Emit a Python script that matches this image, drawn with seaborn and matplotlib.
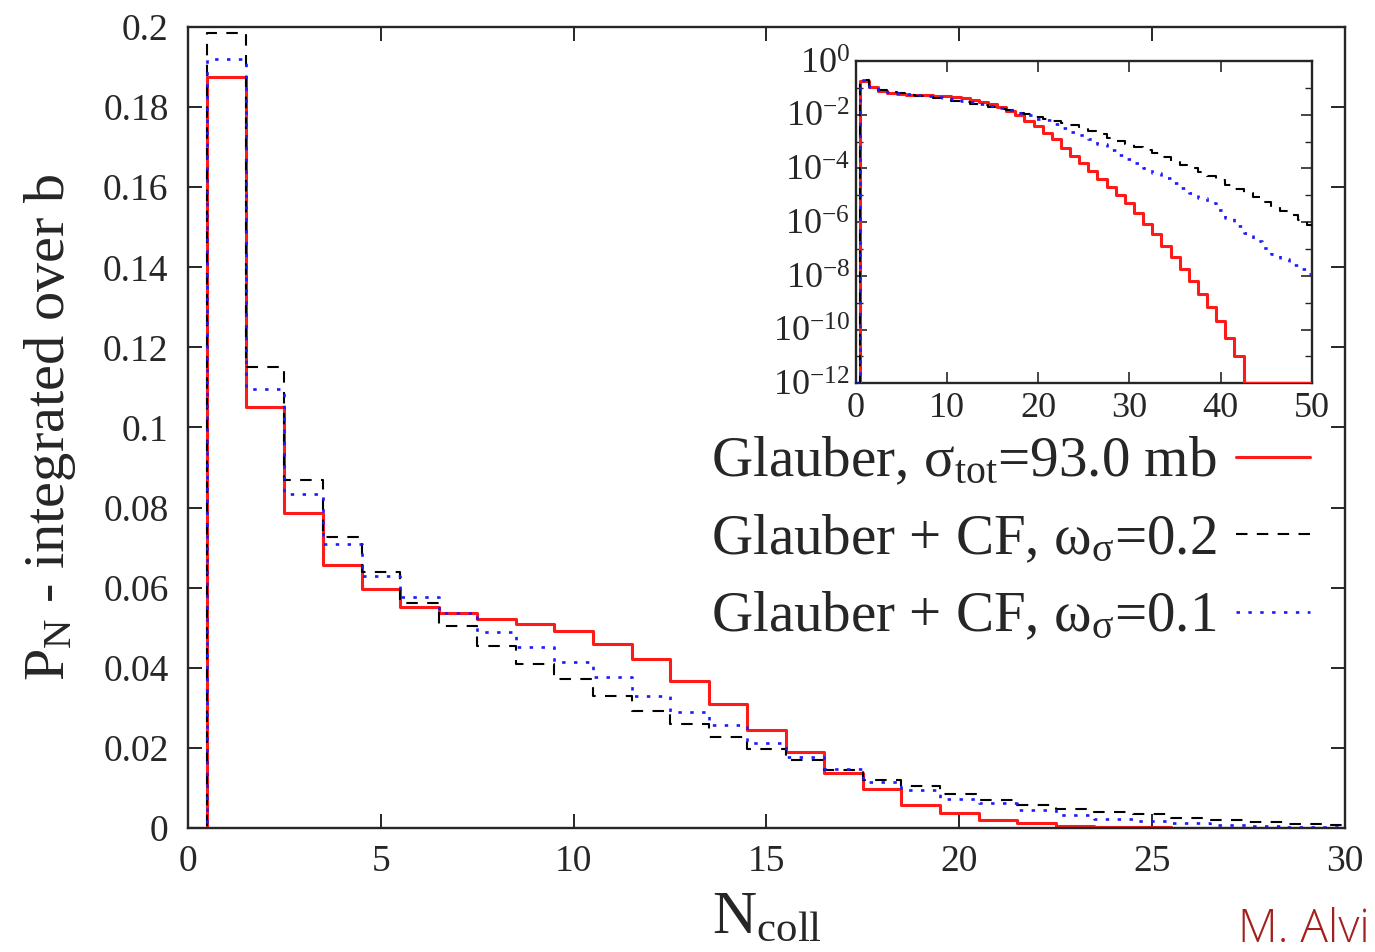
import numpy as np
import pandas as pd
import matplotlib
matplotlib.use('Agg')
import matplotlib.pyplot as plt
import seaborn as sns
from matplotlib.ticker import FuncFormatter, FixedLocator, LogFormatterMathtext, NullFormatter

# ---------------- data ----------------
n_coll = list(range(0, 51))

p_glauber = [0.0, 0.1875, 0.105, 0.0786, 0.0657, 0.0597, 0.0552, 0.0537, 0.0523, 0.051,
             0.0492, 0.046, 0.0422, 0.0368, 0.031, 0.0245, 0.019, 0.0138, 0.0098, 0.0058,
             0.0038, 0.0021, 0.0012, 6.0e-4, 3.0e-4, 1.6e-4, 7.9e-5, 4.0e-5, 2.1e-5, 1.07e-5,
             5.0e-6, 2.2e-6, 8.9e-7, 3.5e-7, 1.3e-7, 5.0e-8, 1.8e-8, 6.3e-9, 2.1e-9, 6.8e-10,
             2.0e-10, 5.0e-11, 1.0e-11, 0.0, 0.0, 0.0, 0.0, 0.0, 0.0, 0.0, 0.0]

p_cf02 = [0.0, 0.1984, 0.115, 0.087, 0.0727, 0.064, 0.0562, 0.0505, 0.0455, 0.041,
          0.0372, 0.033, 0.0293, 0.026, 0.0227, 0.0197, 0.017, 0.0145, 0.012, 0.0105,
          0.0085, 0.007, 0.0058, 0.0048, 4.0e-3, 3.4e-3, 2.5e-3, 1.9e-3, 1.4e-3, 1.07e-3,
          8.3e-4, 6.3e-4, 4.8e-4, 3.7e-4, 2.75e-4, 1.95e-4, 1.38e-4, 1.0e-4, 7.2e-5, 5.2e-5,
          3.7e-5, 2.5e-5, 1.7e-5, 1.17e-5, 8.3e-6, 5.6e-6, 3.8e-6, 2.6e-6, 1.8e-6, 1.17e-6,
          7.9e-7]

p_cf01 = [0.0, 0.192, 0.1096, 0.0834, 0.071, 0.063, 0.0577, 0.0537, 0.049, 0.0452,
          0.0415, 0.0377, 0.033, 0.029, 0.0257, 0.0212, 0.0177, 0.0147, 0.0115, 0.0095,
          0.0072, 0.0062, 0.0045, 0.0033, 2.3e-3, 1.75e-3, 1.2e-3, 8.0e-4, 5.0e-4, 3.2e-4,
          2.3e-4, 1.6e-4, 1.05e-4, 6.8e-5, 4.3e-5, 2.8e-5, 1.8e-5, 1.2e-5, 7.9e-6, 5.0e-6,
          2.8e-6, 1.4e-6, 7.1e-7, 3.8e-7, 2.0e-7, 1.12e-7, 6.6e-8, 4.2e-8, 2.6e-8, 1.8e-8,
          1.2e-8]

series_labels = ['Glauber, σ$_{\\rm tot}$=93.0 mb',
                 'Glauber + CF, ω$_{\\rm σ}$=0.2',
                 'Glauber + CF, ω$_{\\rm σ}$=0.1']

main_xticks = [0, 5, 10, 15, 20, 25, 30]
main_yticks = [0, 0.02, 0.04, 0.06, 0.08, 0.1, 0.12, 0.14, 0.16, 0.18, 0.2]
inset_xticks = [0, 10, 20, 30, 40, 50]
inset_yticks = [1e0, 1e-2, 1e-4, 1e-6, 1e-8, 1e-10, 1e-12]
inset_minor = [1e-1, 1e-3, 1e-5, 1e-7, 1e-9, 1e-11]
log_floor = 1e-12

# ---------------- style ----------------
sns.set_style('ticks')
plt.rcParams['font.family'] = ['Liberation Serif', 'DejaVu Serif']
plt.rcParams['mathtext.fontset'] = 'custom'
plt.rcParams['mathtext.rm'] = 'Liberation Serif'
plt.rcParams['mathtext.it'] = 'Liberation Serif:italic'
plt.rcParams['mathtext.bf'] = 'Liberation Serif:bold'
plt.rcParams['axes.linewidth'] = 1.7

df = pd.DataFrame({'N': n_coll, 'glauber': p_glauber, 'cf02': p_cf02, 'cf01': p_cf01})
cols = ['glauber', 'cf02', 'cf01']
line_styles = [
    dict(color='#ff1a1a', lw=2.2, linestyle='-'),
    dict(color='black', lw=1.5, linestyle=(0, (5.5, 4.5))),
    dict(color='#1a1aff', lw=1.9, linestyle=(0, (1.3, 3.2))),
]

fig = plt.figure(figsize=(13.75, 9.52), dpi=100)
ax = fig.add_axes([0.1367, 0.1303, 0.8415, 0.8413])

for col, lab, st in zip(cols, series_labels, line_styles):
    sns.lineplot(data=df, x='N', y=col, ax=ax, drawstyle='steps-mid', label=lab,
                 errorbar=None, estimator=None, **st)

ax.set_xlim(0, 30)
ax.set_ylim(0, 0.2)
ax.set_xticks(main_xticks)
ax.set_yticks(main_yticks)
ax.yaxis.set_major_formatter(FuncFormatter(lambda v, p: f'{v:g}'))
ax.tick_params(direction='in', length=10, width=1.4, top=True, right=True,
               labelsize=27)
ax.tick_params(axis='y', pad=14)
ax.tick_params(axis='x', pad=12)
ax.set_xlabel('N$_{\\rm coll}$', fontsize=44, labelpad=8)
ax.set_ylabel('P$_{\\rm N}$ - integrated over b', fontsize=42, labelpad=18)

handles, labs = ax.get_legend_handles_labels()
leg = ax.legend(handles, labs, loc='upper right', bbox_to_anchor=(0.953, 0.542),
                bbox_transform=fig.transFigure, frameon=False, markerfirst=False,
                fontsize=41, handlelength=1.3, handletextpad=0.35, labelspacing=0.44,
                borderpad=0, borderaxespad=0)

# ---------------- inset ----------------
axin = fig.add_axes([0.6222, 0.5974, 0.332, 0.3385])
df_in = df.copy()
for col in cols:
    df_in[col] = np.maximum(df_in[col].to_numpy(), log_floor)
for col, st in zip(cols, line_styles):
    sns.lineplot(data=df_in, x='N', y=col, ax=axin, drawstyle='steps-mid',
                 errorbar=None, estimator=None, legend=False, zorder=3, **st)
axin.set_yscale('log')
axin.set_xlim(0, 50)
axin.set_ylim(1e-12, 1)
axin.set_xticks(inset_xticks)
axin.yaxis.set_major_locator(FixedLocator(inset_yticks))
axin.yaxis.set_minor_locator(FixedLocator(inset_minor))
axin.yaxis.set_major_formatter(LogFormatterMathtext())
axin.yaxis.set_minor_formatter(NullFormatter())
axin.tick_params(which='both', direction='in', top=True, right=True, labelsize=26)
axin.tick_params(which='major', length=8, width=1.2)
axin.tick_params(which='minor', length=5, width=1.0)
axin.tick_params(axis='y', pad=4)
axin.tick_params(axis='x', pad=6)
axin.set_xlabel('')
axin.set_ylabel('')

fig.text(0.996, 0.01, 'M. Alvi', ha='right', va='baseline', color='#a3201d',
         fontsize=33, family=['Open Sans', 'DejaVu Sans'], fontweight='light')

fig.savefig('out.png', dpi=100)
